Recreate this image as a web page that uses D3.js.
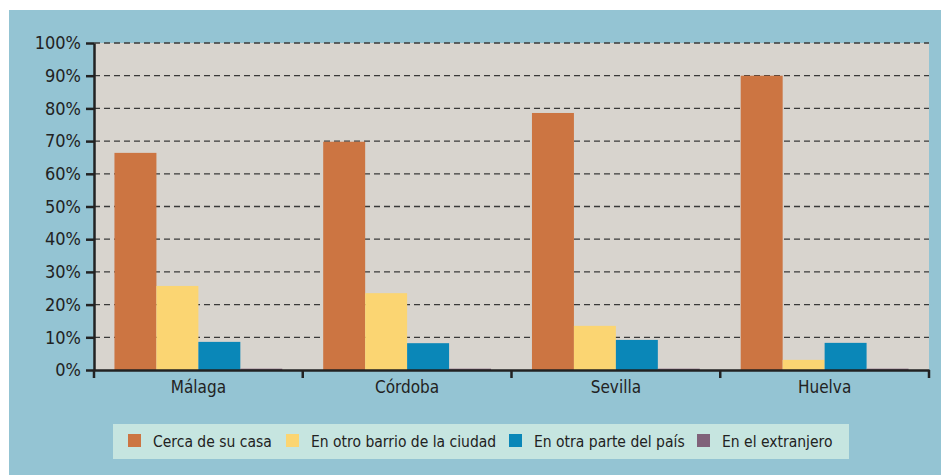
<!DOCTYPE html>
<html><head><meta charset="utf-8">
<script src="https://cdn.jsdelivr.net/npm/d3@7/dist/d3.min.js"></script>
<style>body{margin:0;background:#fff}svg{display:block}</style>
</head><body>
<script>
const cities = ["Málaga", "Córdoba", "Sevilla", "Huelva"];
const seriesNames = ["Cerca de su casa", "En otro barrio de la ciudad", "En otra parte del país", "En el extranjero"];
const cerca = [66.4, 69.8, 78.6, 90.0];
const barrio = [25.7, 23.5, 13.5, 3.1];
const pais = [8.6, 8.2, 9.2, 8.3];
const extranjero = [0.4, 0.4, 0.4, 0.4];
const yTicks = [0, 10, 20, 30, 40, 50, 60, 70, 80, 90, 100];
const colors = ["#CC7542", "#FBD572", "#0A87B8", "#80627A"];

(function () {
const values = [cerca, barrio, pais, extranjero];
const W = 941, H = 475;
const svg = d3.select("body").append("svg").attr("width", W).attr("height", H);
const font = "'DejaVu Sans Condensed', 'DejaVu Sans', sans-serif";

svg.append("rect").attr("x", 9).attr("y", 10).attr("width", W - 9).attr("height", H - 10).attr("fill", "#94C4D3");

const mL = 94, mR = 929, mT = 43, mB = 370;
svg.append("rect").attr("x", mL).attr("y", mT).attr("width", mR - mL).attr("height", mB - mT).attr("fill", "#D8D4CE");

const y = d3.scaleLinear().domain([0, 100]).range([mB, mT]);
const x0 = d3.scaleBand().domain(cities).range([mL, mR]).padding(0);
const bw = x0.bandwidth();
const x1 = d3.scaleBand().domain(seriesNames).range([bw * 0.098, bw * 0.902]).padding(0);

// gridlines
svg.append("g").selectAll("line").data(yTicks.filter(d => d > 0)).join("line")
  .attr("x1", mL).attr("x2", mR).attr("y1", d => y(d)).attr("y2", d => y(d))
  .attr("stroke", "#3a3a3a").attr("stroke-width", 1.3).attr("stroke-dasharray", "6,4");

// bars
const g = svg.append("g");
cities.forEach((c, i) => {
  seriesNames.forEach((s, j) => {
    const v = values[j][i];
    g.append("rect").attr("x", x0(c) + x1(s)).attr("width", x1.bandwidth())
      .attr("y", y(v)).attr("height", y(0) - y(v)).attr("fill", colors[j]);
  });
});

// y axis
const yAxis = svg.append("g").attr("transform", `translate(${mL},0)`)
  .call(d3.axisLeft(y).tickValues(yTicks).tickFormat(d => d + "%").tickSize(8).tickSizeOuter(0));
yAxis.select(".domain").attr("stroke", "#222").attr("stroke-width", 2.5);
yAxis.selectAll(".tick line").attr("stroke", "#222").attr("stroke-width", 2.5);
yAxis.selectAll(".tick text").attr("font-family", font).attr("font-size", 18).attr("fill", "#222").attr("x", -13);

// x axis
const xAxis = svg.append("g").attr("transform", `translate(0,${mB})`)
  .call(d3.axisBottom(x0).tickSize(0).tickSizeOuter(0));
xAxis.select(".domain").attr("stroke", "#222").attr("stroke-width", 2.5);
xAxis.selectAll(".tick text").attr("font-family", font).attr("font-size", 17).attr("fill", "#222").attr("dy", "1.15em");
const bounds = cities.map(c => x0(c)).concat([mR]);
svg.append("g").selectAll("line").data(bounds).join("line")
  .attr("x1", d => d).attr("x2", d => d).attr("y1", mB).attr("y2", mB + 8)
  .attr("stroke", "#222").attr("stroke-width", 2.5);

// legend
svg.append("rect").attr("x", 113).attr("y", 424).attr("width", 736).attr("height", 35).attr("fill", "#C6E5E0");
const legX = [128, 286, 509, 697];
seriesNames.forEach((s, j) => {
  svg.append("rect").attr("x", legX[j]).attr("y", 434).attr("width", 13).attr("height", 13).attr("fill", colors[j]);
  svg.append("text").attr("x", legX[j] + 25).attr("y", 447).attr("font-family", font).attr("font-size", 15.5)
    .attr("fill", "#222").text(s);
});
})();
</script>
</body></html>
